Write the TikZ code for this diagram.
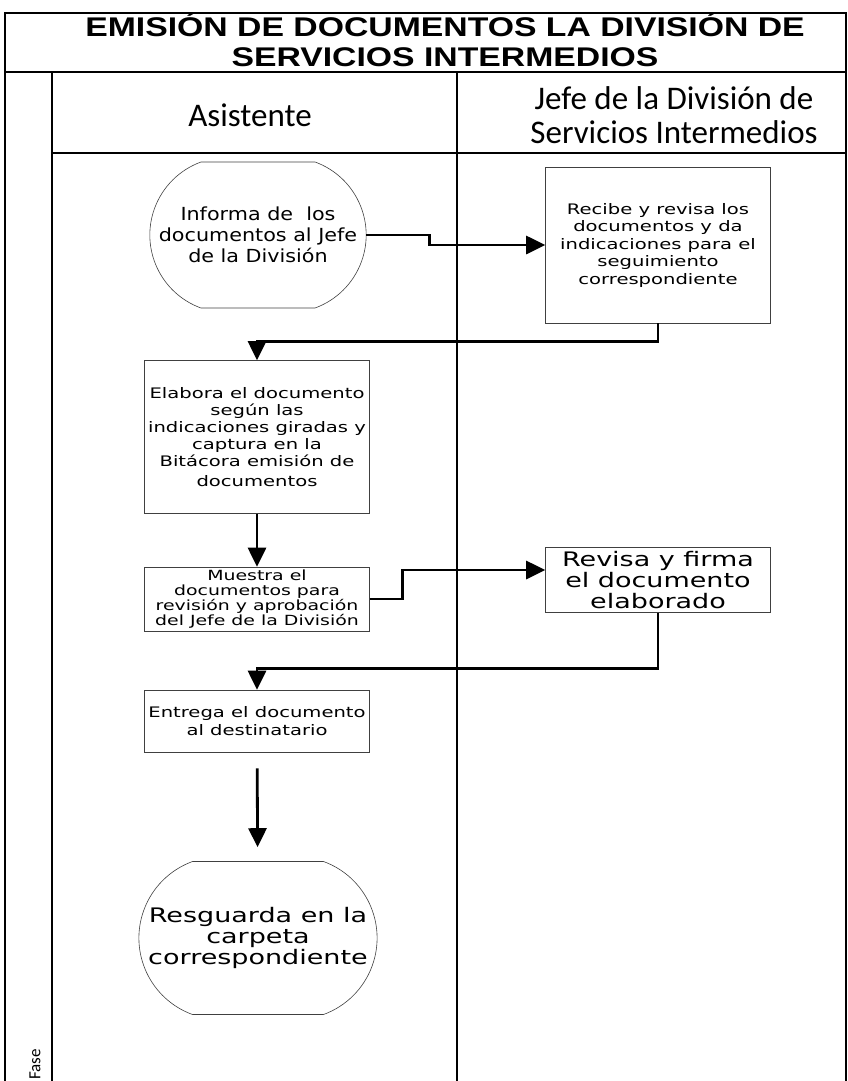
\documentclass[tikz,border=0pt]{standalone}
\usepackage{fontspec}
\usetikzlibrary{shapes.misc,arrows.meta}
\newfontfamily\boxfont{DejaVu Sans}[FakeStretch=1.35]
\newfontfamily\termfont{DejaVu Sans}[FakeStretch=1.15]
\newfontfamily\titlefont{Liberation Sans}[FakeStretch=1.25]
\newfontfamily\headfont{Carlito}
\begin{document}
\begin{tikzpicture}[x=1pt,y=-1pt,
  lane/.style={line width=1.3pt},
  proc/.style={draw=black!75, line width=0.6pt, rectangle, minimum width=225pt, align=center, inner sep=2pt},
  term/.style={draw=black!75, line width=0.6pt, rounded rectangle, rounded rectangle arc length=140, minimum width=223pt, align=center},
  flow/.style={line width=2.8pt, -{Triangle[length=19pt,width=18pt]}}]
\useasboundingbox (0,0) rectangle (848,1081);
% marco y carriles
\draw[lane] (5,1081) -- (5,13) -- (846,13) -- (846,1081);
\draw[lane] (5,72) -- (846,72);
\draw[lane] (52,72) -- (52,1081);
\draw[lane] (457,72) -- (457,1081);
\draw[lane] (52,153) -- (846,153);
\node[font=\titlefont\bfseries\fontsize{27}{30}\selectfont, align=center] (titulo) at (445,40) {EMISIÓN DE DOCUMENTOS LA DIVISIÓN DE\\SERVICIOS INTERMEDIOS};
\node[font=\headfont\fontsize{33}{34}\selectfont] (asist) at (250,115) {Asistente};
\node[font=\headfont\fontsize{33}{34}\selectfont, align=center] (jefe) at (674,115) {Jefe de la División de\\Servicios Intermedios};
\node[font=\headfont\fontsize{17}{17}\selectfont, rotate=90, anchor=west, inner sep=0pt] (fase) at (35,1080) {Fase};
% actividades
\node[term, minimum height=146pt, font=\termfont\fontsize{18}{21}\selectfont] (informa) at (258,235) {Informa de \ los\\documentos al Jefe\\de la División};
\node[proc, minimum height=156pt, font=\boxfont\fontsize{14.5}{17.5}\selectfont] (recibe) at (658,245) {Recibe y revisa los\\documentos y da\\indicaciones para el\\seguimiento\\correspondiente};
\node[proc, minimum height=153pt, font=\boxfont\fontsize{14.5}{17}\selectfont] (elabora) at (257,437) {Elabora el documento\\según las\\indicaciones giradas y\\captura en la\\Bitácora emisión de\\[3pt]documentos};
\node[proc, minimum height=64pt, font=\boxfont\fontsize{14}{14.8}\selectfont] (muestra) at (257,599) {Muestra el\\documentos para\\revisión y aprobación\\del Jefe de la División};
\node[proc, minimum height=65pt, font=\boxfont\fontsize{20}{21}\selectfont] (revisa) at (658,580) {Revisa y firma\\el documento\\elaborado};
\node[proc, minimum height=62pt, font=\boxfont\fontsize{14.5}{18}\selectfont] (entrega) at (257,721) {Entrega el documento\\al destinatario};
\node[term, minimum height=153pt, font=\boxfont\fontsize{20}{21}\selectfont] (resguarda) at (258,938) {Resguarda en la\\carpeta\\correspondiente};
% flujos
\draw[flow] (informa.east) -- ++(63,0) |- (recibe.west);
\draw[flow] (recibe.south) -- ++(0,18) -| (elabora.north);
\draw[flow] (elabora) -- (muestra);
\draw[flow] (muestra.east) -- ++(33,0) |- ([yshift=10pt]revisa.west);
\draw[flow] (revisa.south) -- ++(0,56) -| (entrega.north);
\draw[flow, shorten <=16pt, shorten >=14pt] (entrega) -- (resguarda);
\end{tikzpicture}
\end{document}
